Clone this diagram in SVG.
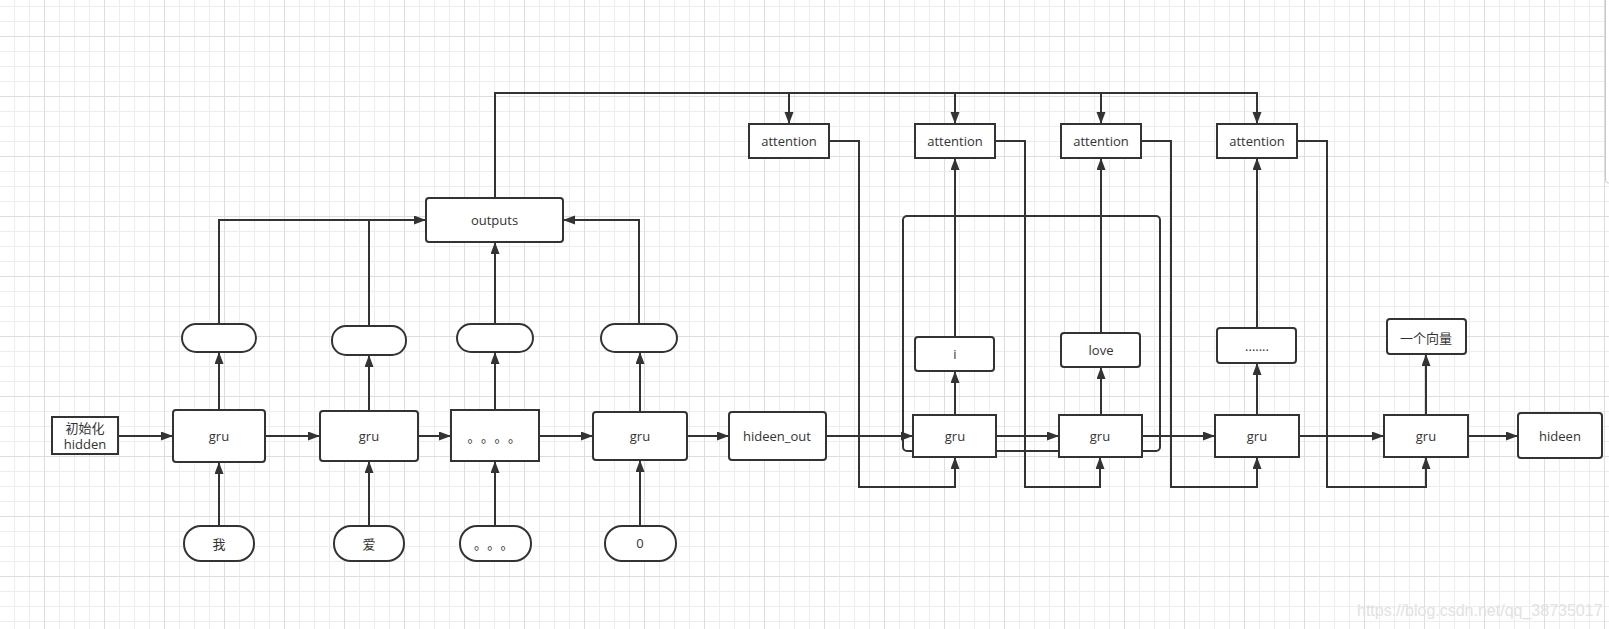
<svg xmlns="http://www.w3.org/2000/svg" width="1609" height="629" viewBox="0 0 1609 629">
<defs>
<style>
.n{fill:#fff;stroke:#333;stroke-width:2}
.t{font-family:"Open Sans","Noto Sans CJK SC",sans-serif;font-size:13px;fill:#333;text-anchor:middle;dominant-baseline:central}
.cj{font-family:"Noto Sans CJK SC",sans-serif}
.st{text-anchor:start}
.c{fill:none;stroke:#333;stroke-width:2}
.a{marker-end:url(#arr)}
</style>
<marker id="arr" markerUnits="userSpaceOnUse" markerWidth="12" markerHeight="10" refX="12" refY="4.5" orient="auto">
<path d="M0,0 L12,4.5 L0,9 z" fill="#333"/>
</marker>
<pattern id="gmin" width="15" height="15" patternUnits="userSpaceOnUse" x="14" y="6">
<path d="M0.5,0 V15 M0,0.5 H15" stroke="#ededed" stroke-width="1" fill="none"/>
</pattern>
<pattern id="gmaj" width="60" height="60" patternUnits="userSpaceOnUse" x="44" y="36">
<path d="M0.5,0 V60 M0,0.5 H60" stroke="#dedede" stroke-width="1" fill="none"/>
</pattern>
</defs>
<rect width="1609" height="629" fill="#fff"/>
<rect width="1609" height="629" fill="url(#gmin)"/>
<rect width="1609" height="629" fill="url(#gmaj)"/>
<rect x="1605.5" y="-10" width="12" height="193" rx="3" fill="#fff" stroke="#c8c8c8" stroke-width="1"/>

<g id="container"><rect x="903" y="216" width="257" height="235" rx="4" fill="none" stroke="#333" stroke-width="2"/></g>

<g id="connectors">
<path class="c a" d="M118,436 H173"/>
<path class="c a" d="M265,436 H320"/>
<path class="c a" d="M418,436 H451"/>
<path class="c a" d="M539,436 H593"/>
<path class="c a" d="M687,436 H729"/>
<path class="c a" d="M826,436 H913"/>
<path class="c a" d="M996,436 H1059"/>
<path class="c a" d="M1142,436 H1215"/>
<path class="c a" d="M1299,436 H1384"/>
<path class="c a" d="M1468,436 H1518"/>
<path class="c a" d="M219,526 V462"/>
<path class="c a" d="M369,526 V461"/>
<path class="c a" d="M495,526 V461"/>
<path class="c a" d="M640,526 V460"/>
<path class="c a" d="M219,410 V352"/>
<path class="c a" d="M369,411 V355"/>
<path class="c a" d="M495,410 V352"/>
<path class="c a" d="M640,412 V352"/>
<path class="c a" d="M219,324 V220 H426"/>
<path class="c" d="M369,326 V220"/>
<path class="c a" d="M495,324 V242"/>
<path class="c a" d="M639,324 V220 H563"/>
<path class="c a" d="M495,198 V93 H1257 V124"/>
<path class="c a" d="M789,93 V124"/>
<path class="c a" d="M955,93 V124"/>
<path class="c a" d="M1101,93 V124"/>
<path class="c a" d="M829,141 H859 V487 H955 V457"/>
<path class="c a" d="M995,141 H1025 V487 H1100 V457"/>
<path class="c a" d="M1141,141 H1171 V487 H1257 V457"/>
<path class="c a" d="M1297,141 H1327 V487 H1426 V457"/>
<path class="c a" d="M955,415 V371"/>
<path class="c a" d="M955,337 V158"/>
<path class="c a" d="M1101,415 V367"/>
<path class="c a" d="M1101,333 V158"/>
<path class="c a" d="M1257,415 V363"/>
<path class="c a" d="M1257,328 V158"/>
<path class="c a" d="M1426,415 V354"/>
</g>

<g id="init"><rect class="n" x="52" y="417" width="66" height="37"/><text class="t" x="85" y="428">初始化</text><text class="t" x="85" y="444">hidden</text></g>
<g id="gru1"><rect class="n" x="173" y="410" width="92" height="52" rx="3"/><text class="t" x="219" y="436">gru</text></g>
<g id="gru2"><rect class="n" x="320" y="411" width="98" height="50" rx="3"/><text class="t" x="369" y="436">gru</text></g>
<g id="dots4"><rect class="n" x="451" y="410" width="88" height="51"/><text class="t cj st" x="467.5 481 494.5 508" y="436">。。。。</text></g>
<g id="gru4"><rect class="n" x="593" y="412" width="94" height="48" rx="3"/><text class="t" x="640" y="436">gru</text></g>
<g id="hideen_out"><rect class="n" x="729" y="412" width="97" height="48" rx="3"/><text class="t" x="777" y="436">hideen_out</text></g>

<g id="in_wo"><rect class="n" x="184" y="526" width="70" height="35" rx="17"/><text class="t cj" x="219" y="543">我</text></g>
<g id="in_ai"><rect class="n" x="334" y="526" width="70" height="35" rx="17"/><text class="t cj" x="369" y="543">爱</text></g>
<g id="in_dots"><rect class="n" x="460" y="526" width="71" height="35" rx="17"/><text class="t cj st" x="474 487.3 500.6" y="543">。。。</text></g>
<g id="in_zero"><rect class="n" x="605" y="526" width="71" height="35" rx="17"/><text class="t" x="640" y="543">0</text></g>

<g id="out1"><rect class="n" x="182" y="324" width="74" height="28" rx="14"/></g>
<g id="out2"><rect class="n" x="332" y="326" width="74" height="29" rx="14"/></g>
<g id="out3"><rect class="n" x="457" y="324" width="76" height="28" rx="14"/></g>
<g id="out4"><rect class="n" x="601" y="324" width="76" height="28" rx="14"/></g>
<g id="outputs"><rect class="n" x="426" y="198" width="137" height="44" rx="3"/><text class="t" x="494.5" y="220">outputs</text></g>

<g id="att1"><rect class="n" x="749" y="124" width="80" height="34"/><text class="t" x="789" y="141">attention</text></g>
<g id="att2"><rect class="n" x="915" y="124" width="80" height="34"/><text class="t" x="955" y="141">attention</text></g>
<g id="att3"><rect class="n" x="1061" y="124" width="80" height="34"/><text class="t" x="1101" y="141">attention</text></g>
<g id="att4"><rect class="n" x="1217" y="124" width="80" height="34"/><text class="t" x="1257" y="141">attention</text></g>

<g id="gru5"><rect class="n" x="913" y="415" width="83" height="42"/><text class="t" x="955" y="436">gru</text></g>
<g id="gru6"><rect class="n" x="1059" y="415" width="83" height="42"/><text class="t" x="1100" y="436">gru</text></g>
<g id="gru7"><rect class="n" x="1215" y="415" width="84" height="42"/><text class="t" x="1257" y="436">gru</text></g>
<g id="gru8"><rect class="n" x="1384" y="415" width="84" height="42"/><text class="t" x="1426" y="436">gru</text></g>
<g id="hideen"><rect class="n" x="1518" y="413" width="84" height="45" rx="3"/><text class="t" x="1560" y="436">hideen</text></g>

<g id="word_i"><rect class="n" x="915" y="337" width="79" height="34" rx="3"/><text class="t" x="955" y="354">i</text></g>
<g id="word_love"><rect class="n" x="1061" y="333" width="79" height="34" rx="3"/><text class="t" x="1101" y="350">love</text></g>
<g id="word_dots"><rect class="n" x="1217" y="328" width="79" height="35" rx="3"/><text class="t" x="1257" y="346">.......</text></g>
<g id="vector"><rect class="n" x="1387" y="319" width="79" height="35" rx="3"/><text class="t cj" x="1426" y="337">一个向量</text></g>

<text x="1357" y="616" font-family="'Liberation Sans',Arial,sans-serif" font-size="16" fill="#e2e2e2">https://blog.csdn.net/qq_38735017</text>
</svg>
